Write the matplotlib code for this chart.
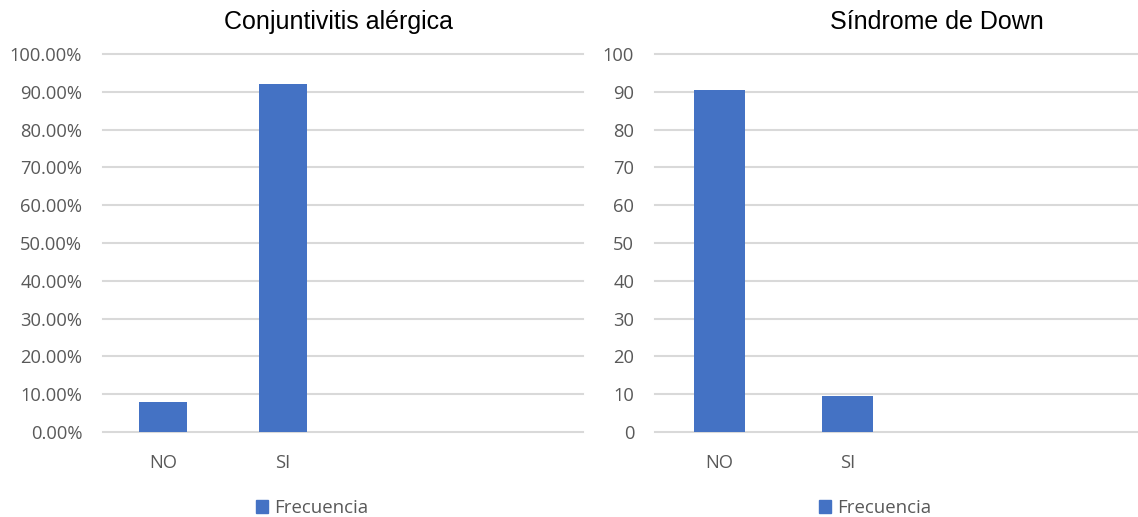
import matplotlib
matplotlib.use("Agg")
import matplotlib.pyplot as plt
from matplotlib.patches import Patch

# datos
categorias = ["NO", "SI"]
conjuntivitis = [0.08, 0.92]      # proporción
down = [90.5, 9.5]                # porcentaje
serie = "Frecuencia"

azul = "#4472C4"
gris_txt = "#595959"
gris_rejilla = "#D9D9D9"

plt.rcParams["font.family"] = ["Open Sans", "DejaVu Sans"]

W, H = 1138, 517
fig = plt.figure(figsize=(W / 100, H / 100), dpi=100)


def px_axes(x0, x1, y_top, y_bot):
    return fig.add_axes([x0 / W, (H - y_bot) / H, (x1 - x0) / W, (y_bot - y_top) / H])


def estilo(ax, ticks, fmt, xlim):
    ax.set_xlim(*xlim)
    ax.set_ylim(ticks[0], ticks[-1])
    ax.set_yticks(ticks)
    ax.set_yticklabels([fmt(t) for t in ticks])
    ax.set_xticks(range(len(categorias)))
    ax.set_xticklabels(categorias)
    for s in ax.spines.values():
        s.set_visible(False)
    for t in ticks:
        ax.axhline(t, color=gris_rejilla, lw=1.5, zorder=0, clip_on=False)
    ax.tick_params(axis="both", length=0, labelsize=13.2, labelcolor=gris_txt)
    ax.tick_params(axis="y", pad=15)
    ax.tick_params(axis="x", pad=16)


# Conjuntivitis alérgica
ax1 = px_axes(103, 583, 54, 432)
ax1.bar(range(len(categorias)), conjuntivitis, width=0.4, color=azul, zorder=2)
estilo(ax1, [i / 10 for i in range(11)], lambda t: f"{t * 100:.2f}%", (-0.5, 3.5))
fig.text(338 / W, 1 - 22 / H, "Conjuntivitis alérgica", ha="center", va="center",
         fontsize=18, family="Liberation Sans", color="black")

# Síndrome de Down
ax2 = px_axes(655, 1138, 54, 432)
ax2.bar(range(len(categorias)), down, width=0.4, color=azul, zorder=2)
estilo(ax2, list(range(0, 101, 10)), lambda t: f"{t}", (-0.5, 3.26))
fig.text(937 / W, 1 - 22 / H, "Síndrome de Down", ha="center", va="center",
         fontsize=18, family="Liberation Sans", color="black")

# leyendas
for cx in (312, 875):
    fig.legend(handles=[Patch(color=azul, label=serie)], loc="center",
               bbox_to_anchor=(cx / W, 9 / H), frameon=False, fontsize=13.4,
               labelcolor=gris_txt, handlelength=0.65, handleheight=0.65,
               handletextpad=0.35)

fig.savefig("out.png", dpi=100)
